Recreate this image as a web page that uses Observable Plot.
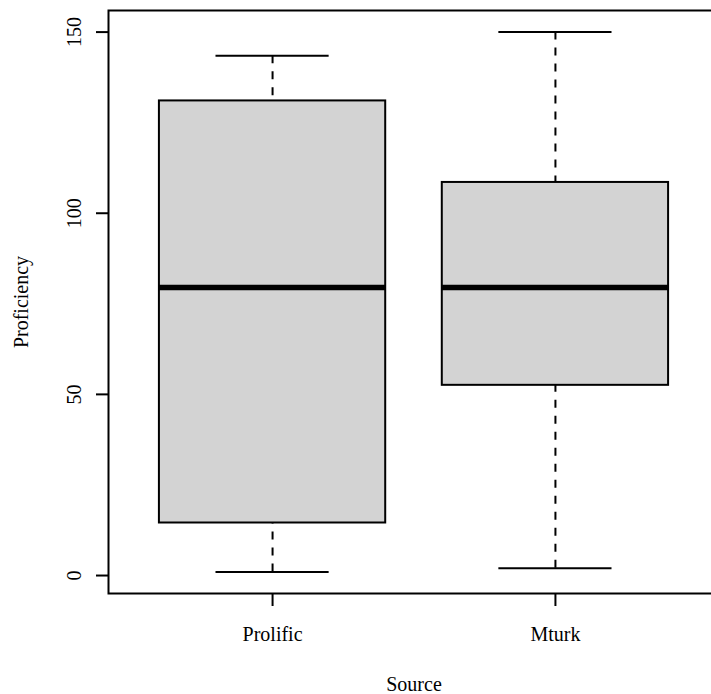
<!DOCTYPE html>
<html>
<head>
<meta charset="utf-8">
<script src="https://cdn.jsdelivr.net/npm/d3@7"></script>
<script src="https://cdn.jsdelivr.net/npm/@observablehq/plot@0.6"></script>
<style>
  html, body { margin: 0; padding: 0; background: #fff; overflow: hidden; }
</style>
</head>
<body>
<div id="chart"></div>
<script>
// Five-number summaries of proficiency by recruitment source
const sources = ["Prolific", "Mturk"];
const lowerWhisker = [1, 2];
const lowerQuartile = [14.5, 52.5];
const median = [79.5, 79.5];
const upperQuartile = [131, 108.5];
const upperWhisker = [143.5, 150];
const yTicks = [0, 50, 100, 150];

const rows = sources.map((source, i) => ({
  source,
  pos: i + 1,
  lo: lowerWhisker[i],
  q1: lowerQuartile[i],
  med: median[i],
  q3: upperQuartile[i],
  hi: upperWhisker[i]
}));

// base-R style axis limits: data range padded by 4% on each side
const yMin = d3.min(lowerWhisker), yMax = d3.max(upperWhisker);
const yPad = (yMax - yMin) * 0.04;
const xPad = (sources.length) * 0.04;

const font = "'Liberation Serif', 'Times New Roman', serif";
const boxHalf = 0.4, capHalf = 0.2;

const chart = Plot.plot({
  width: 711,
  height: 694,
  marginLeft: 108,
  marginRight: -8,
  marginTop: 10,
  marginBottom: 101,
  style: { fontFamily: font, background: "white", overflow: "hidden", color: "black" },
  x: { type: "linear", domain: [0.5 - xPad, sources.length + 0.5 + xPad], axis: null },
  y: { domain: [yMin - yPad, yMax + yPad], axis: null },
  marks: [
    // whiskers, drawn from the whisker end toward the hinge
    Plot.ruleX(rows, { x: "pos", y1: "hi", y2: "q3", stroke: "black", strokeWidth: 2, strokeDasharray: "8,8" }),
    Plot.ruleX(rows, { x: "pos", y1: "lo", y2: "q1", stroke: "black", strokeWidth: 2, strokeDasharray: "8,8" }),
    // whisker caps
    Plot.ruleY(rows, { y: "hi", x1: d => d.pos - capHalf, x2: d => d.pos + capHalf, stroke: "black", strokeWidth: 2 }),
    Plot.ruleY(rows, { y: "lo", x1: d => d.pos - capHalf, x2: d => d.pos + capHalf, stroke: "black", strokeWidth: 2 }),
    // boxes
    Plot.rect(rows, { x1: d => d.pos - boxHalf, x2: d => d.pos + boxHalf, y1: "q1", y2: "q3", fill: "#d3d3d3", stroke: "black", strokeWidth: 2 }),
    // medians
    Plot.ruleY(rows, { y: "med", x1: d => d.pos - boxHalf, x2: d => d.pos + boxHalf, stroke: "black", strokeWidth: 5.5 }),
    // plot frame
    Plot.frame({ stroke: "black", strokeWidth: 2 }),
    // y axis ticks and rotated labels
    Plot.axisY(yTicks, { ticks: yTicks, tickSize: 12, tickFormat: () => "", label: null, strokeWidth: 2, stroke: "black" }),
    Plot.text(yTicks, { y: d => d, text: d => String(d), frameAnchor: "left", rotate: -90, textAnchor: "middle", lineAnchor: "bottom", dx: -28, fontSize: 20, fontFamily: font, fill: "black" }),
    // x axis ticks and category labels
    Plot.axisX(rows.map(d => d.pos), { ticks: rows.map(d => d.pos), tickSize: 13, tickFormat: () => "", label: null, strokeWidth: 2, stroke: "black" }),
    Plot.text(rows, { x: "pos", text: "source", frameAnchor: "bottom", lineAnchor: "bottom", dy: 47, fontSize: 20, fontFamily: font, fill: "black" }),
    // axis titles
    Plot.text(["Source"], { text: d => d, frameAnchor: "bottom", lineAnchor: "bottom", dy: 97, fontSize: 20, fontFamily: font, fill: "black" }),
    Plot.text(["Proficiency"], { text: d => d, frameAnchor: "left", rotate: -90, textAnchor: "middle", lineAnchor: "bottom", dx: -81, fontSize: 20, fontFamily: font, fill: "black" })
  ]
});

document.getElementById("chart").appendChild(chart);
</script>
</body>
</html>
